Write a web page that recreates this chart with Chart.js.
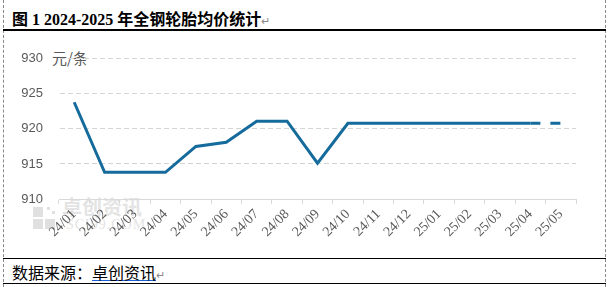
<!DOCTYPE html>
<html><head><meta charset="utf-8">
<script src="https://cdn.jsdelivr.net/npm/chart.js@4"></script>
<style>
html,body{margin:0;padding:0;background:#fff;width:608px;height:287px;overflow:hidden;position:relative;font-family:"Liberation Serif","Noto Sans CJK SC",serif;}
.vl{position:absolute;top:0;height:287px;border-left:1px dashed #888;}
.hl{position:absolute;left:3px;width:603px;border-top:1px solid #000;}
#title{position:absolute;left:12px;top:6px;font-size:16px;font-weight:bold;color:#000;white-space:nowrap;}
#unit{position:absolute;left:52px;top:47px;font-size:15px;color:#595959;font-family:"Noto Sans CJK SC",sans-serif;}
#src{position:absolute;left:12px;top:260px;font-size:16px;color:#000;font-family:"Noto Sans CJK SC",sans-serif;white-space:nowrap;}
#src u{text-decoration-color:#1f5fd6;}
#wrap{position:absolute;left:0;top:35px;width:608px;height:220px;}
.ret{color:#888;font-size:11px;font-weight:normal;}
#wm{position:absolute;left:62px;top:197px;color:#e4e4e4;font-family:"Noto Sans CJK SC",sans-serif;font-weight:bold;font-size:20px;line-height:20px;white-space:nowrap;}
#wm2{position:absolute;left:66px;top:218px;color:#e4e4e4;font-family:"Liberation Serif",serif;font-size:14px;line-height:14px;letter-spacing:1px;}
.sq{position:absolute;background:#e0e0e0;}
</style></head>
<body>
<div class="vl" style="left:3px"></div>
<div class="vl" style="left:605px"></div>
<div class="hl" style="top:29px;border-top-width:2px"></div>
<div class="hl" style="top:258px"></div>
<div class="hl" style="top:283px"></div>
<div class="sq" style="left:33px;top:207px;width:10px;height:10px"></div>
<div class="sq" style="left:33px;top:219px;width:10px;height:10px"></div>
<div class="sq" style="left:45px;top:219px;width:10px;height:10px"></div>
<div class="sq" style="left:47px;top:207px;width:3px;height:3px"></div>
<div class="sq" style="left:52px;top:211px;width:3px;height:3px"></div>
<div id="wm">卓创资讯</div>
<div id="wm2">SCI99.COM</div>
<div id="title">图 1 2024-2025 年全钢轮胎均价统计<span class="ret">↵</span></div>
<div id="unit">元/条</div>
<div id="src">数据来源：<u>卓创资讯</u><span class="ret">↵</span></div>
<div id="wrap"><canvas id="c"></canvas></div>
<script>
const categories = ["24/01","24/02","24/03","24/04","24/05","24/06","24/07","24/08","24/09","24/10","24/11","24/12","25/01","25/02","25/03","25/04","25/05"];
const prices = [923.8,913.8,913.8,913.8,917.5,918.1,921.1,921.1,915.1,920.8,920.8,920.8,920.8,920.8,920.8,920.8,920.8];
const yTicks = [910,915,920,925,930];

new Chart(document.getElementById('c'), {
  type: 'line',
  data: {
    labels: categories,
    datasets: [{
      data: prices,
      borderColor: '#156B9B',
      borderWidth: 3,
      pointRadius: 0,
      tension: 0,
      fill: false,
      segment: {
        borderDash: ctx => ctx.p1DataIndex === categories.length - 1 ? [10, 10] : undefined
      }
    }]
  },
  options: {
    responsive: true,
    maintainAspectRatio: false,
    animation: false,
    layout: { padding: { top: 12, right: 32, left: 0, bottom: 0 } },
    plugins: { legend: { display: false }, tooltip: { enabled: false } },
    scales: {
      x: {
        offset: true,
        grid: { offset: true, drawOnChartArea: false, drawTicks: true, tickLength: 5, color: '#d9d9d9' },
        border: { color: '#d9d9d9', width: 1 },
        ticks: { minRotation: 45, maxRotation: 45, autoSkip: false, color: '#595959', font: { family: 'Liberation Serif', size: 14 }, padding: 2 },
        afterFit: s => { s.height = 56; }
      },
      y: {
        min: 910, max: 930,
        afterBuildTicks: s => { s.ticks = yTicks.map(v => ({ value: v })); },
        grid: { color: ctx => ctx.tick && ctx.tick.value === 910 ? 'rgba(0,0,0,0)' : '#d4d4d4', drawTicks: false, tickLength: 0, lineWidth: 1 },
        border: { display: true, color: 'rgba(0,0,0,0)', dash: [5, 3] },
        ticks: { color: '#595959', font: { family: 'Liberation Sans', size: 13 }, padding: 16 },
        afterFit: s => { s.width = 59; }
      }
    }
  }
});
</script>
</body></html>
